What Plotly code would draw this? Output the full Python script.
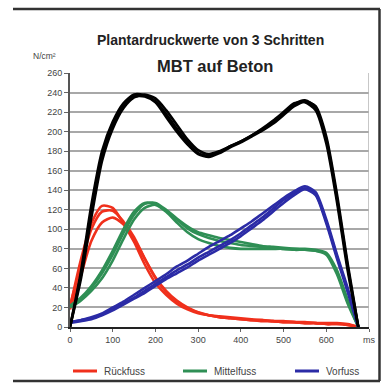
import plotly.graph_objects as go

# time axis (ms)
time_ms = [0, 25, 50, 75, 100, 125, 150, 175, 200, 225, 250, 275, 300, 325,
           350, 375, 400, 425, 450, 475, 500, 525, 550, 575, 600, 625, 650, 675]

# Gesamt (black), three steps
gesamt_1 = [0, 55, 125, 180, 210, 229, 238, 237, 231, 218, 203, 189, 178, 175,
            179, 185, 190, 196, 202, 209, 218, 228, 232, 225, 192, 132, 62, 0]
gesamt_2 = [0, 48, 112, 170, 203, 224, 235, 238, 234, 222, 207, 192, 181, 177,
            180, 185, 190, 196, 203, 211, 220, 229, 230, 222, 188, 128, 58, 0]
gesamt_3 = [0, 52, 118, 175, 206, 226, 236, 236, 230, 215, 200, 187, 177, 174,
            178, 184, 189, 195, 201, 208, 217, 226, 231, 226, 195, 136, 65, 0]

# Rückfuss (red)
rueck_1 = [20, 68, 106, 124, 122, 106, 87, 64, 45, 33, 24, 18, 14, 12,
           11, 10, 9, 8, 7, 6, 6, 5, 5, 4, 4, 4, 3, 0]
rueck_2 = [18, 52, 88, 107, 112, 105, 90, 70, 51, 37, 27, 20, 15, 12,
           10, 9, 8, 7, 6, 6, 5, 5, 4, 4, 3, 3, 2, 0]
rueck_3 = [22, 62, 100, 118, 119, 108, 92, 70, 50, 36, 26, 19, 15, 12,
           10, 9, 8, 7, 7, 6, 5, 5, 4, 4, 3, 3, 2, 0]

# Mittelfuss (green)
mittel_1 = [21, 28, 40, 55, 74, 96, 115, 126, 127, 120, 111, 103, 97, 94,
            91, 89, 87, 85, 83, 82, 81, 80, 80, 79, 76, 58, 28, 0]
mittel_2 = [20, 27, 37, 50, 68, 90, 110, 122, 125, 118, 107, 97, 90, 86,
            83, 81, 80, 80, 80, 80, 80, 79, 79, 78, 75, 56, 26, 0]
mittel_3 = [22, 30, 42, 58, 78, 100, 118, 127, 126, 119, 110, 101, 95, 91,
            88, 86, 84, 83, 82, 81, 80, 80, 79, 78, 74, 54, 24, 0]

# Vorfuss (blue)
vor_1 = [5, 7, 9, 13, 18, 24, 30, 37, 44, 51, 58, 64, 71, 77,
         83, 89, 96, 104, 112, 121, 130, 137, 142, 136, 108, 72, 38, 0]
vor_2 = [5, 7, 10, 14, 20, 26, 33, 40, 47, 54, 62, 68, 75, 82,
         88, 94, 101, 108, 116, 124, 132, 139, 144, 138, 110, 74, 40, 0]
vor_3 = [4, 6, 8, 12, 17, 23, 29, 35, 42, 49, 55, 61, 68, 74,
         80, 86, 93, 101, 109, 118, 127, 135, 141, 135, 106, 70, 36, 0]

x_ticks = [0, 100, 200, 300, 400, 500, 600, 700]
x_tick_labels = ["0", "100", "200", "300", "400", "500", "600", "ms"]
y_ticks = list(range(0, 261, 20))

title_1 = "Plantardruckwerte von 3 Schritten"
title_2 = "MBT auf Beton"
y_unit = "N/cm²"

W, H = 382, 383
ML, MR, MT, MB = 70, 13, 73, 56
PW, PH = W - ML - MR, H - MT - MB


def px(x):
    return (x - ML) / PW


def py(y):
    return (H - MB - y) / PH


FONT = "Liberation Sans, Arial, sans-serif"

fig = go.Figure()

groups = [
    ("Rückfuss", "#f0301c", [rueck_1, rueck_2, rueck_3]),
    ("Mittelfuss", "#2f8f55", [mittel_1, mittel_2, mittel_3]),
    ("Vorfuss", "#2b2ba6", [vor_1, vor_2, vor_3]),
    ("Gesamt", "#000000", [gesamt_1, gesamt_2, gesamt_3]),
]
for name, color, series in groups:
    for ys in series:
        fig.add_trace(go.Scatter(
            x=time_ms, y=ys, mode="lines", name=name,
            line=dict(color=color, width=2.6, shape="spline", smoothing=0.7),
            showlegend=False, hoverinfo="skip",
        ))

fig.update_layout(
    width=W, height=H,
    margin=dict(l=ML, r=MR, t=MT, b=MB, autoexpand=False),
    paper_bgcolor="white", plot_bgcolor="white",
    font=dict(family=FONT, size=9, color="#333"),
    showlegend=False,
    xaxis=dict(range=[0, 700], tickvals=x_ticks, ticktext=x_tick_labels,
               showgrid=False, zeroline=False, showline=True, linecolor="#222",
               linewidth=2, ticks="outside", ticklen=3, tickcolor="#666",
               tickfont=dict(size=9, color="#444"), automargin=False),
    yaxis=dict(range=[0, 260], tickvals=y_ticks, showgrid=True,
               gridcolor="#a8a8a8", gridwidth=1.6, zeroline=False,
               showline=True, linecolor="#555", linewidth=2,
               ticks="outside", ticklen=4, tickcolor="#666",
               tickfont=dict(size=9, color="#444"), automargin=False),
)

shapes = [
    # right edge of the plot area
    dict(type="line", xref="x", yref="y", x0=700, x1=700, y0=0, y1=260,
         line=dict(color="#b5b5b5", width=1.5)),
    # outer frame (top, right, bottom)
    dict(type="line", xref="paper", yref="paper", x0=px(13), x1=px(380), y0=py(9), y1=py(9),
         line=dict(color="#333", width=2.5)),
    dict(type="line", xref="paper", yref="paper", x0=px(379.5), x1=px(379.5), y0=py(9), y1=py(381),
         line=dict(color="#333", width=2.5)),
    dict(type="line", xref="paper", yref="paper", x0=px(13), x1=px(380), y0=py(381), y1=py(381),
         line=dict(color="#333", width=2.5)),
]

# legend drawn by hand (lines + labels)
legend_items = [("Rückfuss", "#f0301c", 73), ("Mittelfuss", "#2f8f55", 183), ("Vorfuss", "#2b2ba6", 295)]
for name, color, x0 in legend_items:
    shapes.append(dict(type="line", xref="paper", yref="paper",
                       x0=px(x0), x1=px(x0 + 24), y0=py(371), y1=py(371),
                       line=dict(color=color, width=3)))
    fig.add_annotation(text=name, xref="paper", yref="paper", x=px(x0 + 29), y=py(371),
                       xanchor="left", yanchor="middle", showarrow=False,
                       font=dict(size=10, color="#444", family=FONT))
fig.update_layout(shapes=shapes)

fig.add_annotation(text="<b>" + title_1 + "</b>", xref="paper", yref="paper",
                   x=px(210), y=py(30), showarrow=False,
                   font=dict(size=14, color="#222", family=FONT))
fig.add_annotation(text="<b>" + title_2 + "</b>", xref="paper", yref="paper",
                   x=px(215), y=py(55), showarrow=False,
                   font=dict(size=16.5, color="#222", family=FONT))
fig.add_annotation(text=y_unit, xref="paper", yref="paper",
                   x=px(44), y=py(56), xanchor="center", yanchor="middle", showarrow=False,
                   font=dict(size=8.5, color="#444", family=FONT))

fig.write_html("out.html", config={"displayModeBar": False},
               post_script="document.body.style.margin='0px';document.body.style.overflow='hidden';")
